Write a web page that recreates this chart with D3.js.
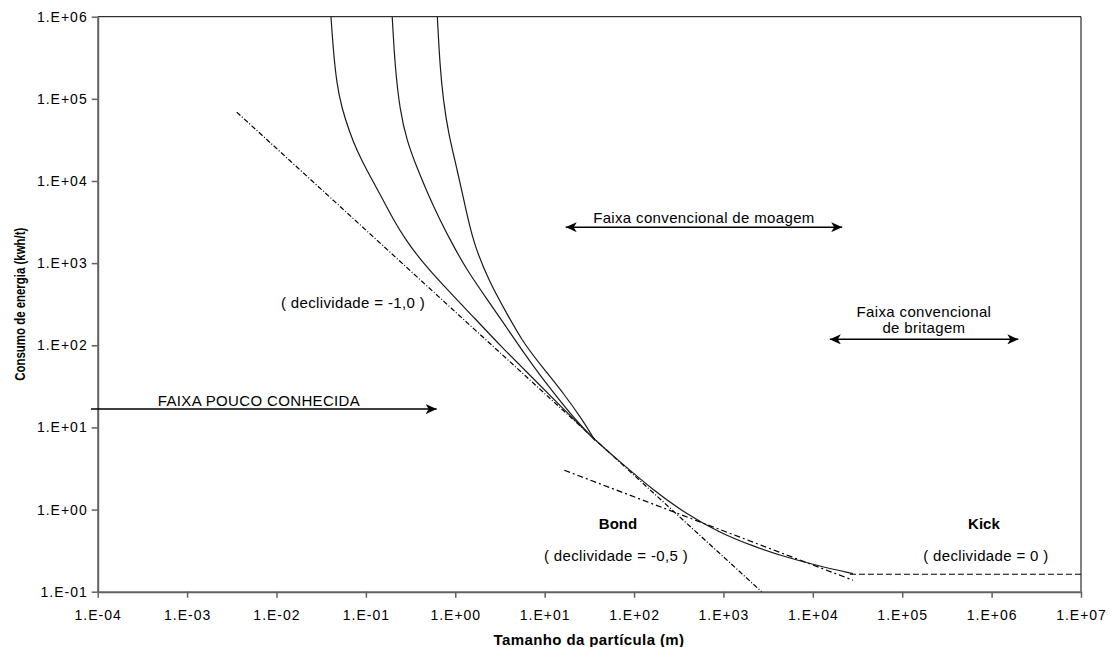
<!DOCTYPE html>
<html>
<head>
<meta charset="utf-8">
<script src="https://cdn.jsdelivr.net/npm/d3@7"></script>
<style>
	body{margin:0;background:#fff;}
	svg text{font-family:"Liberation Sans", Arial, sans-serif;fill:#000;}
</style>
</head>
<body>
<div id="chart"></div>
<script>
// axis ticks
const xTicks = [1e-4, 1e-3, 1e-2, 1e-1, 1e0, 1e1, 1e2, 1e3, 1e4, 1e5, 1e6, 1e7];
const xTickLabels = ["1.E-04", "1.E-03", "1.E-02", "1.E-01", "1.E+00", "1.E+01", "1.E+02", "1.E+03", "1.E+04", "1.E+05", "1.E+06", "1.E+07"];
const yTicks = [1e-1, 1e0, 1e1, 1e2, 1e3, 1e4, 1e5, 1e6];
const yTickLabels = ["1.E-01", "1.E+00", "1.E+01", "1.E+02", "1.E+03", "1.E+04", "1.E+05", "1.E+06"];

// three solid curves (left, middle, right) down to where they meet
const curveAx = [0.0407, 0.0432, 0.0471, 0.0536, 0.0664, 0.0789, 0.102, 0.144, 0.201, 0.281, 0.403, 0.728, 1.73, 3.16, 6.85, 14.8, 36.5];
const curveAy = [1e6, 3.93e5, 1.56e5, 7.73e4, 3.83e4, 2.38e4, 1.36e4, 6920, 3436, 1905, 1119, 540, 202, 100, 43.2, 18.6, 6.98];
const curveBx = [0.197, 0.212, 0.240, 0.286, 0.370, 0.495, 0.675, 0.942, 1.35, 2.26, 3.60, 5.57, 8.85, 14.1, 22.4, 36.5];
const curveBy = [1e6, 2.44e5, 7.31e4, 3.15e4, 1.476e4, 6920, 3340, 1656, 822, 365, 176, 87.1, 43.2, 22.7, 12.2, 6.98];
const curveCx = [0.630, 0.675, 0.735, 0.836, 1.04, 1.27, 1.59, 2.44, 3.76, 5.53, 8.85, 16.9, 26.1, 36.5];
const curveCy = [1e6, 2.44e5, 9.66e4, 3.83e4, 1.436e4, 5380, 1754, 570, 246, 115, 58.9, 24.7, 12.6, 6.98];
// common tail after the curves join
const tailX = [36.5, 69.5, 164, 387, 914, 2153, 5093, 12000, 28100];
const tailY = [6.98, 3.82, 1.72, 0.877, 0.521, 0.357, 0.262, 0.204, 0.166];

// slope reference lines
const rittingerX = [0.00359, 2670];
const rittingerY = [69000, 0.1];
const bondX = [16.6, 28100];
const bondY = [3.01, 0.138];
const kickX = [26000, 1e7];
const kickY = [0.163, 0.163];

// range arrows
const arrowPouco = {x:[8.42e-5, 0.619], y:16.7, both:false};
const arrowMoagem = {x:[17.2, 21300], y:2740, both:true};
const arrowBritagem = {x:[15500, 1.99e6], y:118, both:true};

// text notes, anchored in data units
const notes = [
	{text:"FAIXA POUCO CONHECIDA", x:0.00637, y:18.1, bold:false},
	{text:"( declividade = -1,0 )", x:0.0718, y:283, bold:false},
	{text:"Faixa convencional de moagem", x:605, y:3070, bold:false},
	{text:"Faixa convencional", x:1.75e5, y:222, bold:false},
	{text:"de britagem", x:1.75e5, y:142, bold:false},
	{text:"Bond", x:66.1, y:0.575, bold:true},
	{text:"( declividade = -0,5 )", x:62.8, y:0.234, bold:false},
	{text:"Kick", x:8.2e5, y:0.575, bold:true},
	{text:"( declividade = 0 )", x:8.63e5, y:0.234, bold:false}
];

function drawChart(){
	let w = 1113,
		h = 647,
		margin = {top:16.7, right:32, bottom:55.3, left:97.7},
		axisColor = "#606060";

	let svg = d3.select("#chart").append("svg")
		.attr("width", w)
		.attr("height", h);

	let x = d3.scaleLog().domain([1e-4, 1e7]).range([margin.left, w - margin.right]),
		y = d3.scaleLog().domain([0.1, 1e6]).range([h - margin.bottom, margin.top]);

	let defs = svg.append("defs");
	defs.append("clipPath").attr("id", "plotClip")
		.append("rect")
		.attr("x", margin.left).attr("y", margin.top)
		.attr("width", w - margin.left - margin.right)
		.attr("height", h - margin.top - margin.bottom);
	defs.append("marker")
		.attr("id", "arrowHead")
		.attr("viewBox", "0 -5 11 10")
		.attr("refX", 11).attr("refY", 0)
		.attr("markerWidth", 11).attr("markerHeight", 10)
		.attr("markerUnits", "userSpaceOnUse")
		.attr("orient", "auto-start-reverse")
		.append("path")
		.attr("d", "M0,-5L11,0L0,5L3,0Z")
		.style("fill", "#000");

	// frame: top and right lines
	svg.append("line")
		.attr("x1", x(1e-4)).attr("x2", x(1e7))
		.attr("y1", y(1e6)).attr("y2", y(1e6))
		.attr("stroke", "#000").attr("stroke-width", 1);
	svg.append("line")
		.attr("x1", x(1e7)).attr("x2", x(1e7))
		.attr("y1", y(1e6)).attr("y2", y(0.1))
		.attr("stroke", "#000").attr("stroke-width", 1);

	// axes
	let xAxis = svg.append("g")
		.attr("transform", "translate(0," + y(0.1) + ")")
		.call(d3.axisBottom(x).tickValues(xTicks).tickFormat((d, i) => xTickLabels[i]).tickSize(6).tickSizeOuter(0).tickPadding(12));
	let yAxis = svg.append("g")
		.attr("transform", "translate(" + x(1e-4) + ",0)")
		.call(d3.axisLeft(y).tickValues(yTicks).tickFormat((d, i) => yTickLabels[i]).tickSize(6).tickSizeOuter(0).tickPadding(4));
	[xAxis, yAxis].forEach(function(ax){
		ax.select(".domain").attr("stroke", axisColor).attr("stroke-width", 2);
		ax.selectAll(".tick line").attr("stroke", axisColor).attr("stroke-width", 1.5);
		ax.selectAll(".tick text")
			.style("font-family", "'Liberation Sans', Arial, sans-serif")
			.style("font-size", "14px")
			.style("letter-spacing", "1px")
			.attr("fill", "#000");
	});

	// axis titles
	svg.append("text")
		.attr("x", 589)
		.attr("y", h - 2)
		.attr("text-anchor", "middle")
		.style("font-size", "15px")
		.style("font-weight", "bold")
		.style("letter-spacing", "0.4px")
		.text("Tamanho da partícula (m)");
	svg.append("text")
		.attr("transform", "translate(24.5," + ((y(1e6) + y(0.1)) / 2) + ") rotate(-90)")
		.attr("text-anchor", "middle")
		.attr("textLength", 153)
		.attr("lengthAdjust", "spacingAndGlyphs")
		.style("font-size", "15px")
		.style("font-weight", "bold")
		.text("Consumo de energia (kwh/t)");

	let plot = svg.append("g").attr("clip-path", "url(#plotClip)");
	let line = d3.line()
		.x(d => x(d[0]))
		.y(d => y(d[1]))
		.curve(d3.curveBasis);
	let straight = d3.line()
		.x(d => x(d[0]))
		.y(d => y(d[1]));

	function pairs(xs, ys){
		return xs.map((v, i) => [v, ys[i]]);
	}

	// dashed slope lines
	plot.append("path")
		.attr("d", straight(pairs(rittingerX, rittingerY)))
		.attr("fill", "none").attr("stroke", "#000").attr("stroke-width", 1.2)
		.attr("stroke-dasharray", "5,2,1,2");
	plot.append("path")
		.attr("d", straight(pairs(bondX, bondY)))
		.attr("fill", "none").attr("stroke", "#000").attr("stroke-width", 1.2)
		.attr("stroke-dasharray", "6,3,2,3");
	plot.append("path")
		.attr("d", straight(pairs(kickX, kickY)))
		.attr("fill", "none").attr("stroke", "#000").attr("stroke-width", 1.2)
		.attr("stroke-dasharray", "6,3");

	// solid curves
	[pairs(curveAx, curveAy).concat(pairs(tailX, tailY).slice(1)),
	 pairs(curveBx, curveBy),
	 pairs(curveCx, curveCy)].forEach(function(pts){
		plot.append("path")
			.attr("d", line(pts))
			.attr("fill", "none")
			.attr("stroke", "#1a1a1a")
			.attr("stroke-width", 1.2);
	});

	// arrows
	[arrowPouco, arrowMoagem, arrowBritagem].forEach(function(a){
		let l = svg.append("line")
			.attr("x1", x(a.x[0])).attr("x2", x(a.x[1]))
			.attr("y1", y(a.y)).attr("y2", y(a.y))
			.attr("stroke", "#000").attr("stroke-width", 1.5)
			.attr("marker-end", "url(#arrowHead)");
		if(a.both){
			l.attr("marker-start", "url(#arrowHead)");
		}
	});

	// notes
	notes.forEach(function(n){
		svg.append("text")
			.attr("x", x(n.x))
			.attr("y", y(n.y))
			.attr("text-anchor", "middle")
			.style("font-size", "15px")
			.style("font-weight", n.bold ? "bold" : "normal")
			.style("letter-spacing", n.bold ? "0px" : "0.35px")
			.text(n.text);
	});
}
drawChart();
</script>
</body>
</html>
